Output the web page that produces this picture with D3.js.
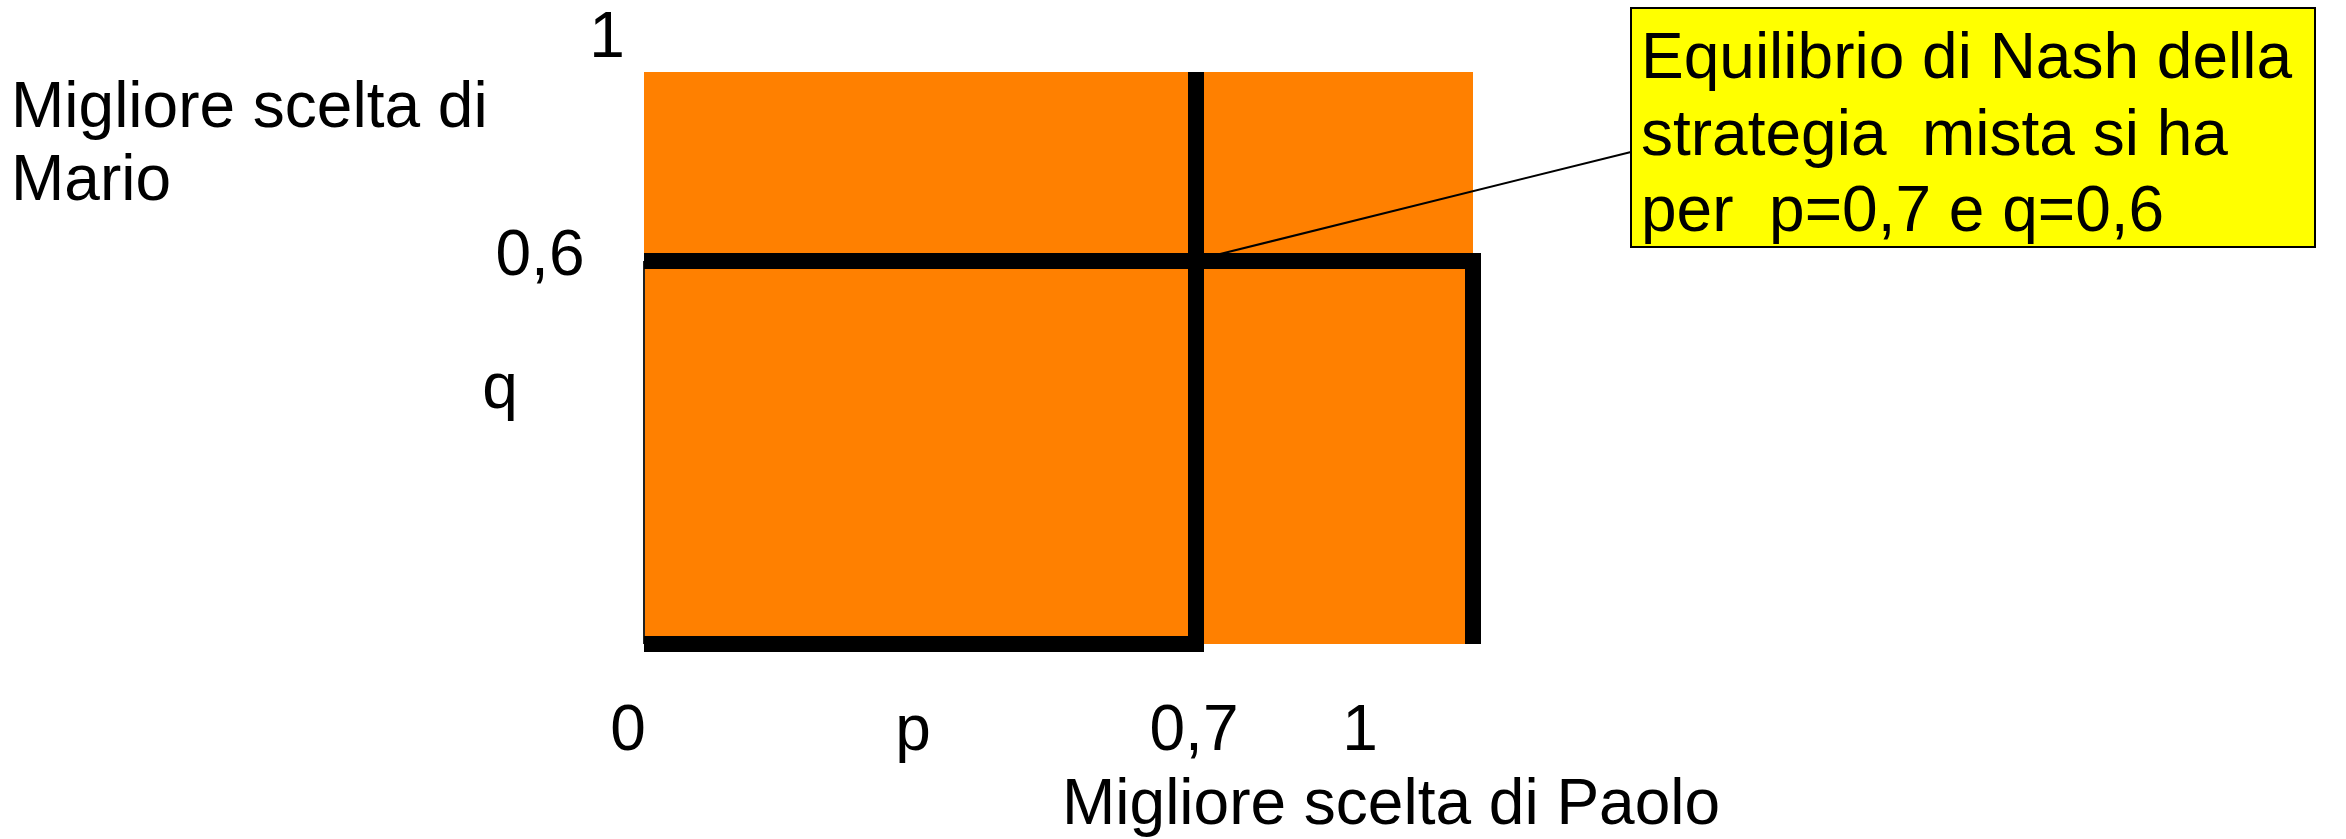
<!DOCTYPE html>
<html>
<head>
<meta charset="utf-8">
<script src="https://cdn.jsdelivr.net/npm/d3@7"></script>
<style>
  html, body { margin: 0; padding: 0; background: #ffffff; }
  svg { display: block; }
  text { font-family: "Liberation Sans", Arial, sans-serif; fill: #000; white-space: pre; }
</style>
</head>
<body>
<svg id="chart" width="2346" height="839"></svg>
<script>
// Mixed-strategy Nash equilibrium: best responses of Paolo (p) and Mario (q)
const pStops = [0, 0.7, 1];
const qStops = [0, 0.6, 1];
const nashP = 0.7;
const nashQ = 0.6;

// Best-response polylines, as (p, q) pairs
const marioBestResponse = [[0, 0.6], [1, 0.6], [1, 0]];
const paoloBestResponse = [[0, 0], [0.7, 0], [0.7, 1]];
const leftEdge = [[0, 0.6], [0, 0]];

const xTickValues = [0, 0.7, 1];
const xTickLabels = ["0", "0,7", "1"];
const yTickValues = [0.6, 1];
const yTickLabels = ["0,6", "1"];

const xVarLabel = "p";
const yVarLabel = "q";
const xTitle = "Migliore scelta di Paolo";
const yTitleLines = ["Migliore scelta di", "Mario"];
const noteLines = ["Equilibrio di Nash della", "strategia  mista si ha", "per  p=0,7 e q=0,6"];

const svg = d3.select("#chart");
const fontSize = 64;

// Piecewise scales: the diagram is drawn schematically, not to scale
const x = d3.scaleLinear().domain(pStops).range([644, 1196, 1473]);
const y = d3.scaleLinear().domain(qStops).range([644, 261, 72]);

const line = d3.line().x(d => x(d[0])).y(d => y(d[1])).curve(d3.curveLinear);

// Unit square of strategies
svg.append("rect")
  .attr("x", x(0)).attr("y", y(1))
  .attr("width", x(1) - x(0)).attr("height", y(0) - y(1))
  .attr("fill", "#ff8000");

// Callout box and its leader to the equilibrium
const box = { x: 1631, y: 8, w: 684, h: 239 };
svg.append("line")
  .attr("x1", box.x).attr("y1", 152)
  .attr("x2", x(nashP) + 20).attr("y2", y(nashQ) - 6)
  .attr("stroke", "#000").attr("stroke-width", 2);

svg.append("rect")
  .attr("x", box.x).attr("y", box.y)
  .attr("width", box.w).attr("height", box.h)
  .attr("fill", "#ffff00").attr("stroke", "#000").attr("stroke-width", 2);

svg.append("g").selectAll("text").data(noteLines).join("text")
  .attr("x", box.x + 10)
  .attr("y", (d, i) => 78 + i * 76.5)
  .attr("font-size", fontSize)
  .text(d => d);

// Thin left border of the lower region
svg.append("path")
  .attr("d", line(leftEdge))
  .attr("fill", "none").attr("stroke", "#222").attr("stroke-width", 2);

// Best-response lines
[marioBestResponse, paoloBestResponse].forEach(pts => {
  svg.append("path")
    .attr("d", line(pts))
    .attr("fill", "none")
    .attr("stroke", "#000")
    .attr("stroke-width", 16)
    .attr("stroke-linejoin", "miter")
    .attr("stroke-linecap", "butt");
});

// Axis tick labels
const xTickOffset = [-16, -2, -113];
svg.append("g").selectAll("text").data(xTickValues).join("text")
  .attr("x", (d, i) => x(d) + xTickOffset[i])
  .attr("y", 750)
  .attr("text-anchor", "middle")
  .attr("font-size", fontSize)
  .text((d, i) => xTickLabels[i]);

const yTickPos = [{ dx: 540, dy: 14 }, { dx: 607, dy: -15 }];
svg.append("g").selectAll("text").data(yTickValues).join("text")
  .attr("x", (d, i) => yTickPos[i].dx)
  .attr("y", (d, i) => y(d) + yTickPos[i].dy)
  .attr("text-anchor", "middle")
  .attr("font-size", fontSize)
  .text((d, i) => yTickLabels[i]);

// Variable names
svg.append("text")
  .attr("x", 913).attr("y", 750)
  .attr("text-anchor", "middle").attr("font-size", fontSize)
  .text(xVarLabel);
svg.append("text")
  .attr("x", 500).attr("y", 408)
  .attr("text-anchor", "middle").attr("font-size", fontSize)
  .text(yVarLabel);

// Axis titles
svg.append("text")
  .attr("x", 1062).attr("y", 824)
  .attr("font-size", fontSize)
  .text(xTitle);

svg.append("g").selectAll("text").data(yTitleLines).join("text")
  .attr("x", 11)
  .attr("y", (d, i) => 127 + i * 73)
  .attr("font-size", fontSize)
  .text(d => d);
</script>
</body>
</html>
